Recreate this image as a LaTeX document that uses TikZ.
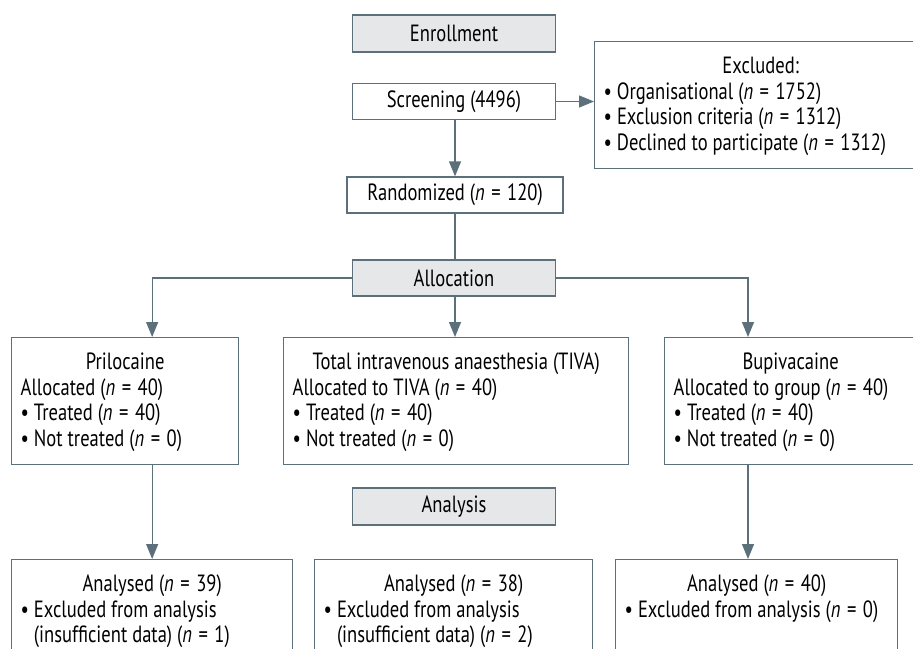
\documentclass[tikz,border=0pt]{standalone}
\usepackage{fontspec}
\setmainfont{PT Sans}[FakeStretch=0.79]
\usepackage{xcolor}
\usetikzlibrary{arrows.meta}
\definecolor{lineclr}{RGB}{92,112,124}
\definecolor{stagefill}{RGB}{230,231,233}
\newcommand\cell[3]{\parbox[c][#2][t]{#1}{\rule{0pt}{32pt}#3}}
\newcommand\hd[1]{\makebox[\linewidth]{#1}}
\newcommand\nn[1]{(\textit{n}\;=\;#1)}
\newcommand\bul{\textbullet\ }
\newcommand\hang{\phantom{\textbullet\ }}
\tikzset{
  box/.style = {draw=lineclr, line width=1.3pt, inner sep=0pt, minimum height=36pt},
  stagebox/.style = {box, fill=stagefill, minimum width=203pt},
  infobox/.style = {box, anchor=north west, inner xsep=9pt},
  link/.style = {draw=lineclr, line width=1.3pt},
  arr/.style = {link, -{Triangle[length=15pt,width=12pt]}}
}

\begin{document}
\begin{tikzpicture}[x=1pt,y=-1pt,every node/.style={font=\fontsize{23.5}{25.5}\selectfont}]
  \useasboundingbox (0,0) rectangle (913,648);
  \clip (0,0) rectangle (913,648);
  \node[stagebox, minimum height=37pt] (enroll) at (454,33.5) {Enrollment};
  \node[box, minimum width=203pt] (screen) at (454,101.5) {Screening (4496)};
  \node[infobox] (excl) at (594,41) {\cell{314pt}{127pt}{\hd{Excluded:}\\
    \bul Organisational \nn{1752}\\
    \bul Exclusion criteria \nn{1312}\\
    \bul Declined to participate \nn{1312}}};
  \node[box, minimum width=216pt] (random) at (455,195) {Randomized \nn{120}};
  \node[stagebox] (alloc) at (454,278) {Allocation};
  \node[infobox] (prilo) at (11,337) {\cell{209pt}{127pt}{\hd{Prilocaine}\\
    Allocated \nn{40}\\
    \bul Treated \nn{40}\\
    \bul Not treated \nn{0}}};
  \node[infobox] (tiva) at (283,337) {\cell{327pt}{127pt}{\hd{Total intravenous anaesthesia (TIVA)}\\
    Allocated to TIVA \nn{40}\\
    \bul Treated \nn{40}\\
    \bul Not treated \nn{0}}};
  \node[infobox] (bupi) at (664,337) {\cell{234pt}{127pt}{\hd{Bupivacaine}\\
    Allocated to group \nn{40}\\
    \bul Treated \nn{40}\\
    \bul Not treated \nn{0}}};
  \node[stagebox, minimum height=37pt] (analysis) at (454,506.5) {Analysis};
  \node[infobox] (an1) at (11,559) {\cell{263pt}{127pt}{\hd{Analysed \nn{39}}\\
    \bul Excluded from analysis\\
    \hang(insufficient data) \nn{1}}};
  \node[infobox] (an2) at (314,559) {\cell{260pt}{127pt}{\hd{Analysed \nn{38}}\\
    \bul Excluded from analysis\\
    \hang(insufficient data) \nn{2}}};
  \node[infobox] (an3) at (615,559) {\cell{264pt}{127pt}{\hd{Analysed \nn{40}}\\
    \bul Excluded from analysis \nn{0}}};
  \coordinate (rcol) at (748,0);
  \path[arr] (screen.east) -- (excl.west |- screen.east);
  \path[arr] (screen.south -| random.north) -- (random.north);
  \path[link] (random.south) -- (random.south |- alloc.north);
  \path[arr] (alloc.west) -| (an1.north |- prilo.north);
  \path[arr] (alloc.south -| random.south) -- (random.south |- tiva.north);
  \path[arr] (alloc.east) -| (rcol |- bupi.north);
  \path[arr] (an1.north |- prilo.south) -- (an1.north);
  \path[arr] (rcol |- bupi.south) -- (rcol |- an3.north);
\end{tikzpicture}
\end{document}
